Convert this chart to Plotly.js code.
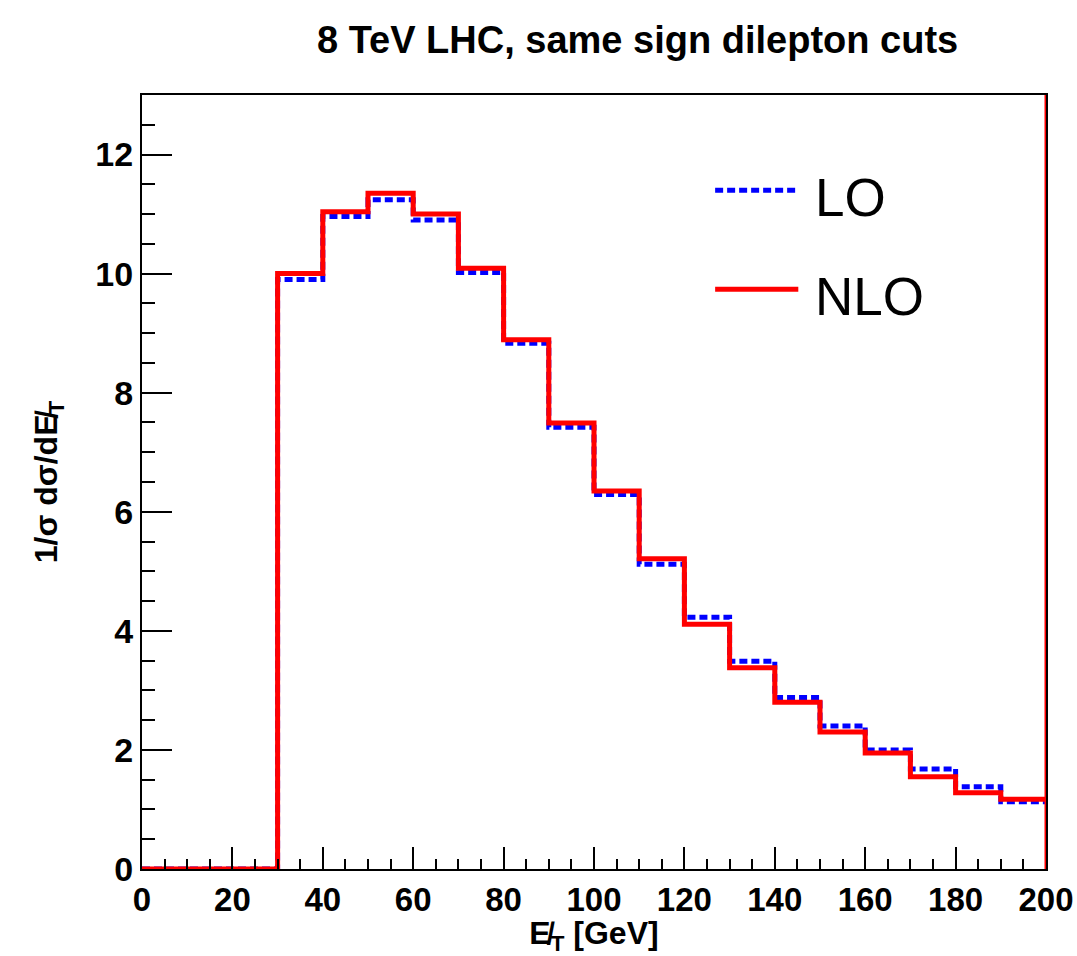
<!DOCTYPE html>
<html>
<head>
<meta charset="utf-8">
<script src="https://cdn.plot.ly/plotly-3.0.1.min.js"></script>
<style>
  html, body { margin: 0; padding: 0; background: #ffffff; }
  #chart { width: 1077px; height: 956px; }
</style>
</head>
<body>
<div id="chart"></div>
<script>
// Missing transverse energy distribution, 10 GeV bins from 0 to 200 GeV
const binEdges = [0, 10, 20, 30, 40, 50, 60, 70, 80, 90, 100,
                  110, 120, 130, 140, 150, 160, 170, 180, 190, 200];
const loValues = [0, 0, 0, 9.90, 10.96, 11.24, 10.90, 10.02, 8.83, 7.42,
                  6.29, 5.12, 4.23, 3.49, 2.88, 2.40, 2.00, 1.68, 1.38, 1.13];
const nloValues = [0, 0, 0, 10.00, 11.04, 11.35, 11.00, 10.09, 8.89, 7.49,
                   6.35, 5.21, 4.11, 3.38, 2.80, 2.30, 1.95, 1.55, 1.28, 1.17];
const xTickVals = [0, 20, 40, 60, 80, 100, 120, 140, 160, 180, 200];
const yTickVals = [0, 2, 4, 6, 8, 10, 12];
const seriesNames = ['LO', 'NLO'];

// Histogram outline: one point per bin left edge plus the closing right edge
function stepY(values) {
  return values.concat([values[values.length - 1]]);
}

const FONT = 'Liberation Sans, Arial, Helvetica, sans-serif';
const BLUE = '#0000ff';
const RED = '#ff0000';

const traces = [
  {
    x: binEdges, y: stepY(loValues), name: seriesNames[0],
    type: 'scatter', mode: 'lines',
    line: { shape: 'hv', color: BLUE, width: 5, dash: '8px,4px' },
    showlegend: false, cliponaxis: true
  },
  {
    x: binEdges, y: stepY(nloValues), name: seriesNames[1],
    type: 'scatter', mode: 'lines',
    line: { shape: 'hv', color: RED, width: 5 },
    showlegend: false, cliponaxis: true
  }
];

// Legend drawn as sample lines with labels in the upper right of the frame
const legendRows = [
  { name: seriesNames[0], color: BLUE, dash: '8px,4px', y: 0.877 },
  { name: seriesNames[1], color: RED, dash: 'solid', y: 0.749 }
];
const shapes = [];
const annotations = [];
legendRows.forEach(r => {
  shapes.push({
    type: 'line', xref: 'paper', yref: 'paper',
    x0: 0.634, x1: 0.726, y0: r.y, y1: r.y,
    line: { color: r.color, width: 5, dash: r.dash }
  });
  annotations.push({
    xref: 'paper', yref: 'paper', x: 0.742, y: r.y - 0.009,
    xanchor: 'left', yanchor: 'middle', showarrow: false,
    text: r.name, font: { family: FONT, size: 53, color: '#000000' }
  });
});
// Right edge of the last bin outline runs up the frame
shapes.push({
  type: 'line', xref: 'x', yref: 'paper', x0: 200, x1: 200, y0: 0, y1: 1,
  line: { color: RED, width: 3 }
});

const layout = {
  width: 1077, height: 956,
  paper_bgcolor: '#ffffff', plot_bgcolor: '#ffffff',
  margin: { l: 142, r: 31, t: 95, b: 87 },
  showlegend: false,
  title: {
    text: '<b>8 TeV LHC, same sign dilepton cuts</b>',
    font: { family: FONT, size: 38, color: '#000000' },
    x: 0.592, xanchor: 'center', y: 0.958, yanchor: 'middle'
  },
  xaxis: {
    range: [0, 200], autorange: false,
    showgrid: false, zeroline: false,
    showline: true, linecolor: '#000000', linewidth: 2, mirror: true,
    ticks: 'inside', ticklen: 22, tickwidth: 2, tickcolor: '#000000',
    tickmode: 'array', tickvals: xTickVals, ticktext: xTickVals.map(v => '<b>' + v + '</b>'),
    tickfont: { family: FONT, size: 33, color: '#000000' },
    minor: { dtick: 5, ticks: 'inside', ticklen: 10, tickwidth: 2, tickcolor: '#000000', showgrid: false },
    title: {
      text: '<b>E̸<sub>T</sub> [GeV]</b>',
      font: { family: FONT, size: 32, color: '#000000' },
      standoff: 22
    }
  },
  yaxis: {
    range: [0, 13], autorange: false,
    showgrid: false, zeroline: false,
    showline: true, linecolor: '#000000', linewidth: 2, mirror: true,
    ticks: 'inside', ticklen: 30, tickwidth: 2, tickcolor: '#000000',
    tickmode: 'array', tickvals: yTickVals, ticktext: yTickVals.map(v => '<b>' + v + '</b>'),
    tickfont: { family: FONT, size: 34, color: '#000000' },
    minor: { dtick: 0.5, ticks: 'inside', ticklen: 13, tickwidth: 2, tickcolor: '#000000', showgrid: false },
    title: {
      text: '<b>1/σ dσ/dE̸<sub>T</sub></b>',
      font: { family: FONT, size: 32, color: '#000000' },
      standoff: 28
    }
  },
  shapes: shapes,
  annotations: annotations
};

Plotly.newPlot('chart', traces, layout, { staticPlot: true, displayModeBar: false });
</script>
</body>
</html>
